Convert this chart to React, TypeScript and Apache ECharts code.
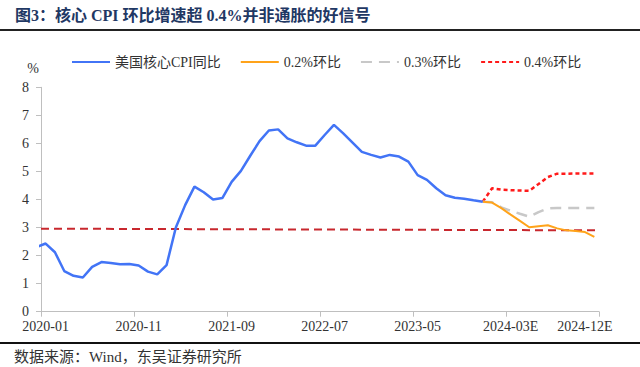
import React, { useEffect, useRef } from "react";
import * as echarts from "echarts";

// Visible axis categories (bands): 2020-01 … 2024-12E
const axisCategories: string[] = (() => {
  const out: string[] = [];
  for (let y = 2020; y <= 2024; y++) {
    for (let m = 1; m <= 12; m++) {
      out.push(`${y}-${String(m).padStart(2, "0")}${y === 2024 ? "E" : ""}`);
    }
  }
  return out;
})();

// Data months (release months) 2020-01 … 2025-01
const dataMonths: string[] = (() => {
  const out: string[] = [];
  for (let y = 2020; y <= 2025; y++) {
    for (let m = 1; m <= 12; m++) {
      if (y === 2025 && m > 1) break;
      out.push(`${y}-${String(m).padStart(2, "0")}`);
    }
  }
  return out;
})();

// 美国核心CPI同比 (2020-01 … 2024-01)
const coreCpiYoY = [
  2.3, 2.43, 2.12, 1.45, 1.28, 1.22, 1.6, 1.77, 1.74, 1.69, 1.7, 1.65,
  1.43, 1.33, 1.66, 3.0, 3.8, 4.46, 4.26, 4.0, 4.05, 4.63, 5.02, 5.56,
  6.08, 6.46, 6.5, 6.18, 6.04, 5.92, 5.92, 6.3, 6.66, 6.36, 6.03, 5.7,
  5.59, 5.5, 5.59, 5.53, 5.35, 4.87, 4.7, 4.4, 4.15, 4.06, 4.03, 3.97,
  3.92,
];

// Projections from 2024-01 … 2025-01
const projStart = "2024-01";
const proj02 = [3.92, 3.89, 3.69, 3.46, 3.24, 3.01, 3.05, 3.08, 2.97, 2.9, 2.88, 2.84, 2.67];
const proj03 = [3.92, 3.9, 3.72, 3.6, 3.49, 3.39, 3.55, 3.68, 3.7, 3.7, 3.7, 3.7, 3.7];
const proj04 = [3.92, 4.4, 4.35, 4.33, 4.32, 4.31, 4.55, 4.8, 4.92, 4.92, 4.93, 4.93, 4.93];

// Reference level (start, end of axis)
const refLevel = [2.96, 2.9];

const yTicks = { min: 0, max: 8, interval: 1 };

const SERIF = '"Liberation Serif", "Times New Roman", "Noto Sans CJK SC", serif';

export default function App() {
  const ref = useRef<HTMLDivElement>(null);

  useEffect(() => {
    if (!ref.current) return;
    const chart = echarts.init(ref.current, undefined, { renderer: "svg" });
    const off = dataMonths.indexOf(projStart);
    const pos = (arr: number[], start: number) => arr.map((v, i) => [start + i, v]);
    const axMin = 0.5;
    const axMax = dataMonths.length - 0.5;

    chart.setOption({
      animation: false,
      backgroundColor: "#ffffff",
      grid: { left: 41, right: 41, top: 87.3, bottom: 55.3, containLabel: false },
      legend: {
        left: 71,
        top: 55,
        padding: 0,
        itemWidth: 38,
        itemHeight: 14,
        itemGap: 19,
        itemStyle: { opacity: 0 },
        textStyle: { fontSize: 14, fontFamily: SERIF, color: "#333" },
        data: ["美国核心CPI同比", "0.2%环比", "0.3%环比", "0.4%环比"],
      },
      xAxis: [
        {
          type: "category",
          position: "bottom",
          data: axisCategories,
          boundaryGap: true,
          axisLine: { lineStyle: { color: "#BFBFBF", width: 1 } },
          axisTick: { show: true, interval: 9, length: 5, lineStyle: { color: "#BFBFBF" } },
          axisLabel: {
            interval: (i: number) => i % 10 === 0 || i === axisCategories.length - 1,
            margin: 8,
            fontSize: 14,
            fontFamily: SERIF,
            color: "#333",
            formatter: (v: string, i: number) =>
              i === axisCategories.length - 1 ? `{e|${v}}` : v,
            rich: {
              e: { fontSize: 14, fontFamily: SERIF, color: "#333", padding: [0, 19, 0, 0] },
            },
          },
          splitLine: { show: false },
        },
        {
          type: "value",
          position: "top",
          show: false,
          min: axMin,
          max: axMax,
          splitLine: { show: false },
        },
      ],
      yAxis: {
        type: "value",
        min: yTicks.min,
        max: yTicks.max,
        interval: yTicks.interval,
        axisLine: { show: true, lineStyle: { color: "#BFBFBF", width: 1 } },
        axisTick: { show: true, length: 5, lineStyle: { color: "#BFBFBF" } },
        axisLabel: { fontSize: 14, fontFamily: SERIF, color: "#333", margin: 12 },
        splitLine: { show: false },
      },
      series: [
        {
          name: "ref",
          type: "line",
          xAxisIndex: 1,
          data: [
            [axMin, refLevel[0]],
            [axMax, refLevel[1]],
          ],
          symbol: "none",
          lineStyle: { color: "#C8282E", width: 2, type: [8, 5] },
          z: 1,
        },
        {
          name: "美国核心CPI同比",
          type: "line",
          xAxisIndex: 1,
          data: pos(coreCpiYoY, 0),
          symbol: "none",
          lineStyle: { color: "#4274F6", width: 2.5 },
          itemStyle: { color: "#4274F6" },
          z: 3,
        },
        {
          name: "0.4%环比",
          type: "line",
          xAxisIndex: 1,
          data: pos(proj04, off),
          symbol: "none",
          lineStyle: { color: "#FF1A1A", width: 2.5, type: [4, 3] },
          itemStyle: { color: "#FF1A1A" },
          z: 2,
        },
        {
          name: "0.3%环比",
          type: "line",
          xAxisIndex: 1,
          data: pos(proj03, off),
          symbol: "none",
          lineStyle: { color: "#C8C8C8", width: 2.5, type: [11, 7] },
          itemStyle: { color: "#C8C8C8" },
          z: 2,
        },
        {
          name: "0.2%环比",
          type: "line",
          xAxisIndex: 1,
          data: pos(proj02, off),
          symbol: "none",
          lineStyle: { color: "#FFA31A", width: 2 },
          itemStyle: { color: "#FFA31A" },
          z: 2,
        },
      ],
      graphic: [
        {
          type: "text",
          x: 15,
          y: 15,
          style: {
            text: "图3：核心 CPI 环比增速超 0.4%并非通胀的好信号",
            font: `bold 16px ${SERIF}`,
            fill: "#1F3864",
            textVerticalAlign: "middle",
          },
        },
        {
          type: "line",
          shape: { x1: 0, y1: 30, x2: 640, y2: 30 },
          style: { stroke: "#222", lineWidth: 2 },
        },
        {
          type: "text",
          x: 33,
          y: 68,
          style: {
            text: "%",
            font: `14px ${SERIF}`,
            fill: "#333",
            textAlign: "center",
            textVerticalAlign: "middle",
          },
        },
        {
          type: "line",
          shape: { x1: 0, y1: 343, x2: 640, y2: 343 },
          style: { stroke: "#111", lineWidth: 2 },
        },
        {
          type: "text",
          x: 14,
          y: 357,
          style: {
            text: "数据来源：Wind，东吴证券研究所",
            font: `15px ${SERIF}`,
            fill: "#333",
            textVerticalAlign: "middle",
          },
        },
      ],
    });

    return () => chart.dispose();
  }, []);

  return (
    <div
      ref={ref}
      style={{ position: "absolute", left: 0, top: 0, width: 640, height: 367 }}
    />
  );
}
